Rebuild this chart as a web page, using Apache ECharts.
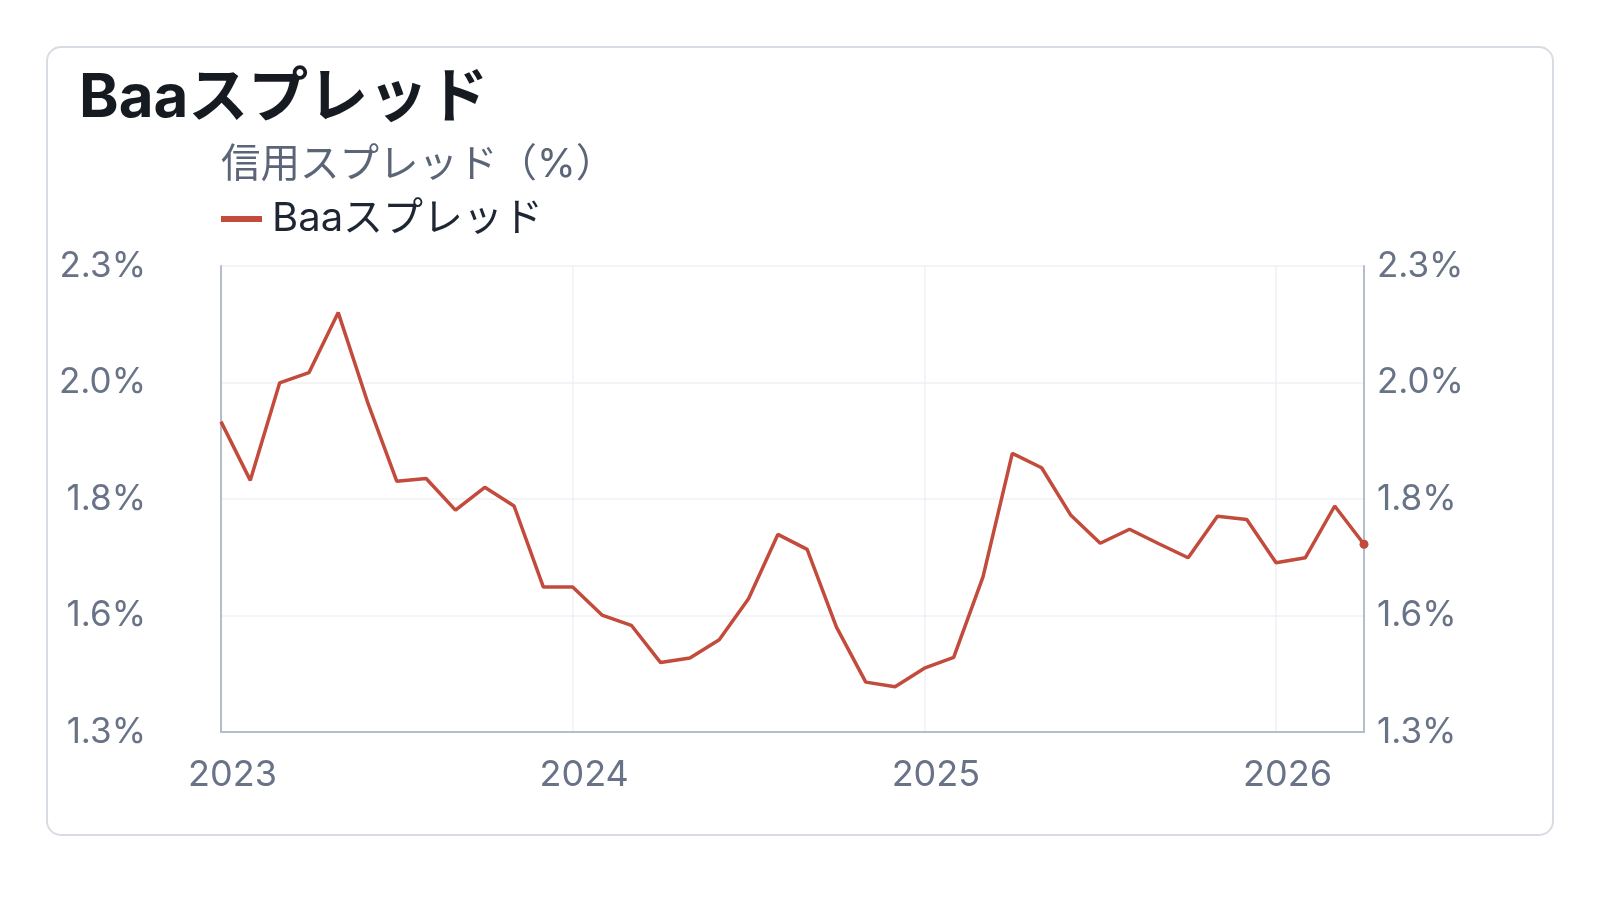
<!DOCTYPE html>
<html>
<head>
<meta charset="utf-8">
<script src="https://cdn.jsdelivr.net/npm/echarts@6/dist/echarts.min.js"></script>
<style>
  html, body { margin: 0; padding: 0; background: #fff; }
  #chart { width: 1600px; height: 900px; }
</style>
</head>
<body>
<div id="chart"></div>
<script>
// monthly points, Jan 2023 .. Apr 2026
var months = [
  '2023-01', '2023-02', '2023-03', '2023-04', '2023-05', '2023-06', '2023-07', '2023-08', '2023-09', '2023-10', '2023-11', '2023-12',
  '2024-01', '2024-02', '2024-03', '2024-04', '2024-05', '2024-06', '2024-07', '2024-08', '2024-09', '2024-10', '2024-11', '2024-12',
  '2025-01', '2025-02', '2025-03', '2025-04', '2025-05', '2025-06', '2025-07', '2025-08', '2025-09', '2025-10', '2025-11', '2025-12',
  '2026-01', '2026-02', '2026-03', '2026-04'
];
var baaSpread = [
  1.966, 1.840, 2.049, 2.071, 2.200, 2.008, 1.838, 1.844, 1.776, 1.825, 1.785, 1.611,
  1.611, 1.551, 1.529, 1.449, 1.459, 1.498, 1.586, 1.724, 1.692, 1.525, 1.407, 1.397,
  1.437, 1.460, 1.633, 1.898, 1.867, 1.765, 1.705, 1.735, 1.704, 1.674, 1.763, 1.756,
  1.663, 1.674, 1.785, 1.703
];
var yearLabels = ['2023', '2024', '2025', '2026'];
var yTickLabels = ['1.3%', '1.6%', '1.8%', '2.0%', '2.3%'];

var FONT = 'Inter, "Noto Sans CJK JP", sans-serif';
var labelColor = '#687387';
var axisColor = '#b3bdcb';
var gridColor = '#eef1f5';
var lineColor = '#c24b3c';

var chart = echarts.init(document.getElementById('chart'));
var lastIdx = baaSpread.length - 1;

function isYearStart(idx) {
  return idx % 12 === 0;
}

function yAxisBase(pos, margin) {
  return {
    type: 'value',
    position: pos,
    min: 1.3,
    max: 2.3,
    interval: 0.25,
    axisLine: { show: true, lineStyle: { color: axisColor, width: 2 } },
    axisTick: { show: false },
    axisLabel: {
      margin: margin,
      fontSize: 35,
      fontFamily: FONT,
      color: labelColor,
      padding: [0, 0, 6, 0],
      formatter: function (v, i) { return yTickLabels[i]; }
    },
    splitLine: { show: pos === 'left', lineStyle: { color: gridColor, width: 1.5 } }
  };
}

var option = {
  animation: false,
  backgroundColor: '#fff',
  graphic: [{
    type: 'rect',
    z: -1,
    shape: { x: 47, y: 47, width: 1506, height: 788, r: 14 },
    style: { fill: 'none', stroke: '#d7dce5', lineWidth: 2 }
  }],
  title: [{
    text: 'Baaスプレッド',
    left: 74,
    top: 64,
    textStyle: { fontFamily: FONT, fontSize: 60, fontWeight: 'bold', color: '#161b22' }
  }, {
    text: '信用スプレッド（%）',
    left: 216,
    top: 140,
    textStyle: { fontFamily: FONT, fontSize: 39.5, fontWeight: 'normal', color: '#5b6577' }
  }],
  legend: {
    left: 216,
    top: 194,
    icon: 'rect',
    itemWidth: 41,
    itemHeight: 6,
    itemGap: 20,
    textStyle: { fontFamily: FONT, fontSize: 40, color: '#1e2633', padding: [0, 0, 0, 5] },
    data: ['Baaスプレッド']
  },
  grid: { left: 221, right: 236, top: 266, bottom: 168 },
  xAxis: {
    type: 'category',
    data: months,
    boundaryGap: false,
    axisLine: { show: true, lineStyle: { color: axisColor, width: 2 } },
    axisTick: { show: false },
    axisLabel: {
      interval: isYearStart,
      margin: 25,
      fontSize: 36,
      fontFamily: FONT,
      color: labelColor,
      padding: [0, 0, 0, 23],
      formatter: function (v, i) { return yearLabels[Math.floor(i / 12)]; }
    },
    splitLine: { show: true, interval: isYearStart, lineStyle: { color: gridColor, width: 1.5 } }
  },
  yAxis: [yAxisBase('left', 75), yAxisBase('right', 13)],
  series: [{
    name: 'Baaスプレッド',
    type: 'line',
    data: baaSpread,
    yAxisIndex: 0,
    showAllSymbol: true,
    symbol: 'circle',
    symbolSize: function (v, p) { return p.dataIndex === lastIdx ? 9 : 0; },
    itemStyle: { color: lineColor },
    lineStyle: { color: lineColor, width: 3.5 }
  }]
};

chart.setOption(option);
</script>
</body>
</html>
